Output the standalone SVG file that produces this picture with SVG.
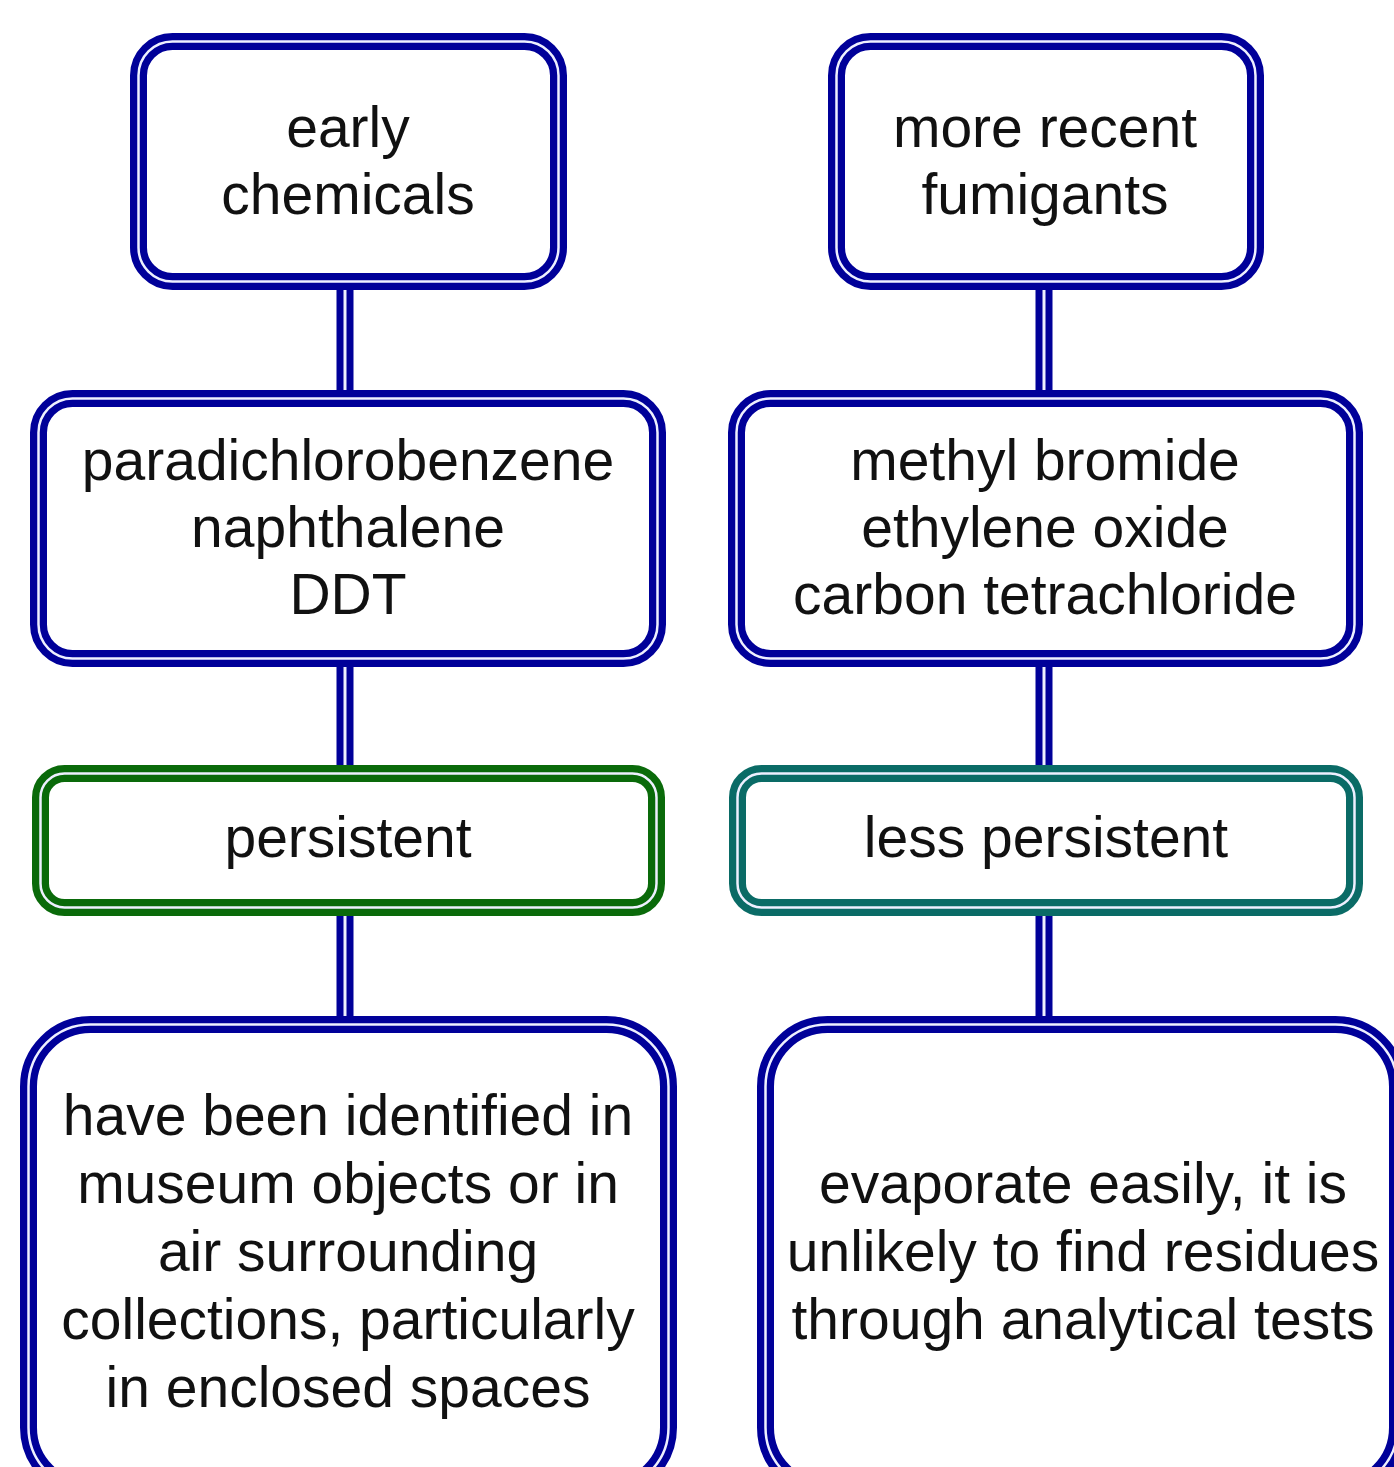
<svg xmlns="http://www.w3.org/2000/svg" width="1394" height="1467" viewBox="0 0 1394 1467">
<style>
.ob{fill:#ffffff;stroke:#000099;stroke-width:17}
.og{fill:#ffffff;stroke:#0a6a0a;stroke-width:17}
.ot{fill:#ffffff;stroke:#0a6b66;stroke-width:17}
.gap{fill:none;stroke:#eef0ff;stroke-width:2.5}
.cl{stroke:#000099;stroke-width:17;fill:none}
.cg{stroke:#eef0ff;stroke-width:3;fill:none}
text{font-family:"Liberation Sans",Arial,Helvetica,sans-serif;font-size:57px;fill:#111111;text-anchor:middle}
</style>
<rect width="1394" height="1467" fill="#ffffff"/>
<g id="connectors">
<line class="cl" x1="345" y1="282" x2="345" y2="398"/><line class="cg" x1="345" y1="282" x2="345" y2="398"/>
<line class="cl" x1="345" y1="657" x2="345" y2="773"/><line class="cg" x1="345" y1="657" x2="345" y2="773"/>
<line class="cl" x1="345" y1="907" x2="345" y2="1025"/><line class="cg" x1="345" y1="907" x2="345" y2="1025"/>
<line class="cl" x1="1044" y1="282" x2="1044" y2="398"/><line class="cg" x1="1044" y1="282" x2="1044" y2="398"/>
<line class="cl" x1="1044" y1="657" x2="1044" y2="773"/><line class="cg" x1="1044" y1="657" x2="1044" y2="773"/>
<line class="cl" x1="1044" y1="907" x2="1044" y2="1025"/><line class="cg" x1="1044" y1="907" x2="1044" y2="1025"/>
</g>
<g id="early">
<rect class="ob" x="138.5" y="41.5" width="420" height="240" rx="34"/>
<rect class="gap" x="138.5" y="41.5" width="420" height="240" rx="34"/>
<text x="348" y="147">early</text>
<text x="348" y="214">chemicals</text>
</g>
<g id="recent">
<rect class="ob" x="836.5" y="41.5" width="419" height="240" rx="34"/>
<rect class="gap" x="836.5" y="41.5" width="419" height="240" rx="34"/>
<text x="1045" y="147">more recent</text>
<text x="1045" y="214">fumigants</text>
</g>
<g id="early-list">
<rect class="ob" x="38.5" y="398.5" width="619" height="260" rx="34"/>
<rect class="gap" x="38.5" y="398.5" width="619" height="260" rx="34"/>
<text x="348" y="480">paradichlorobenzene</text>
<text x="348" y="547">naphthalene</text>
<text x="348" y="614">DDT</text>
</g>
<g id="recent-list">
<rect class="ob" x="736.5" y="398.5" width="618" height="260" rx="34"/>
<rect class="gap" x="736.5" y="398.5" width="618" height="260" rx="34"/>
<text x="1045" y="480">methyl bromide</text>
<text x="1045" y="547">ethylene oxide</text>
<text x="1045" y="614">carbon tetrachloride</text>
</g>
<g id="persistent">
<rect class="og" x="40.5" y="773.5" width="616" height="134" rx="24"/>
<rect class="gap" x="40.5" y="773.5" width="616" height="134" rx="24"/>
<text x="348" y="857">persistent</text>
</g>
<g id="less-persistent">
<rect class="ot" x="737.5" y="773.5" width="617" height="134" rx="24"/>
<rect class="gap" x="737.5" y="773.5" width="617" height="134" rx="24"/>
<text x="1046" y="857">less persistent</text>
</g>
<g id="identified">
<rect class="ob" x="28.5" y="1024.5" width="640" height="465" rx="62"/>
<rect class="gap" x="28.5" y="1024.5" width="640" height="465" rx="62"/>
<text x="348" y="1135">have been identified in</text>
<text x="348" y="1203">museum objects or in</text>
<text x="348" y="1271">air surrounding</text>
<text x="348" y="1339">collections, particularly</text>
<text x="348" y="1407">in enclosed spaces</text>
</g>
<g id="evaporate">
<rect class="ob" x="765.5" y="1024.5" width="632" height="465" rx="62"/>
<rect class="gap" x="765.5" y="1024.5" width="632" height="465" rx="62"/>
<text x="1083" y="1203">evaporate easily, it is</text>
<text x="1083" y="1271">unlikely to find residues</text>
<text x="1083" y="1339">through analytical tests</text>
</g>
</svg>
